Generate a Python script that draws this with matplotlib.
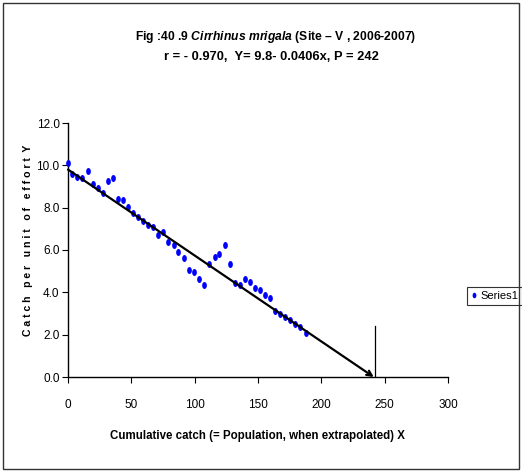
import matplotlib
matplotlib.use("Agg")
import matplotlib.pyplot as plt
from matplotlib.patches import Rectangle
from matplotlib.path import Path
import numpy as np

# Cumulative catch (X) and catch per unit of effort (Y)
cumulative_catch = [0, 3.2, 7.3, 11.3, 15.5, 19.4, 23.7, 27.6, 31.8, 35.7, 39.7, 43.6,
                    47.5, 51.2, 55.1, 59.1, 63.3, 67.2, 71.2, 75.1, 79.3, 83.3, 87.2, 91.2,
                    95.4, 99.4, 103.5, 107.5, 111.7, 115.7, 119.6, 123.6, 127.8, 131.7,
                    135.6, 139.6, 143.8, 147.7, 151.4, 155.3, 159.3, 163.2, 167.1, 171.3,
                    175.3, 179.2, 183.4, 187.6]
cpue = [10.1, 9.6, 9.45, 9.38, 9.73, 9.12, 8.91, 8.71, 9.24, 9.38, 8.42, 8.37,
        8.01, 7.74, 7.54, 7.39, 7.19, 7.11, 6.72, 6.84, 6.38, 6.24, 5.89, 5.63,
        5.07, 4.95, 4.63, 4.33, 5.34, 5.69, 5.83, 6.24, 5.36, 4.46,
        4.33, 4.62, 4.47, 4.22, 4.12, 3.86, 3.71, 3.11, 2.97, 2.83,
        2.69, 2.51, 2.34, 2.07]

# Regression: Y = a - b x, population estimate P
intercept = 9.8
slope = 0.0406
population = 242
marker_line_top = 2.4

x_ticks = [0, 50, 100, 150, 200, 250, 300]
y_ticks = [0.0, 2.0, 4.0, 6.0, 8.0, 10.0, 12.0]

FONT = ["Liberation Sans Narrow", "Liberation Sans", "DejaVu Sans"]
plt.rcParams["font.family"] = FONT
plt.rcParams["mathtext.fontset"] = "custom"
plt.rcParams["mathtext.it"] = "Liberation Sans:italic:bold"
plt.rcParams["mathtext.rm"] = "Liberation Sans:bold"

W, H = 522, 472
fig = plt.figure(figsize=(W / 100, H / 100), dpi=100)
fig.patch.set_facecolor("white")

ax = fig.add_axes([68 / W, 1 - 377 / H, 380 / W, 254 / H])
ax.set_xlim(0, 300)
ax.set_ylim(0, 12)

# slightly tall elliptical dots
theta = np.linspace(0, 2 * np.pi, 40)
ell = Path(np.column_stack([0.68 * np.cos(theta), np.sin(theta)]), closed=True)
ax.plot(cumulative_catch, cpue, linestyle="none", marker=ell, markersize=5.0,
        color="#0000ff", markeredgewidth=0, label="Series1", clip_on=False, zorder=3)

# regression line extrapolated to the x-intercept
ax.annotate("", xy=(intercept / slope, 0), xytext=(0, intercept),
            arrowprops=dict(arrowstyle="->", color="black", lw=1.6,
                            shrinkA=0, shrinkB=0, mutation_scale=9),
            annotation_clip=False, zorder=4)
ax.plot([population, population], [0, marker_line_top], color="black", lw=0.9,
        zorder=4)

for s in ["top", "right"]:
    ax.spines[s].set_visible(False)
for s in ["left", "bottom"]:
    ax.spines[s].set_linewidth(1.0)
    ax.spines[s].set_color("black")

ax.set_xticks(x_ticks)
ax.set_yticks(y_ticks)
ax.set_xticklabels([str(v) for v in x_ticks])
ax.set_yticklabels([f"{v:.1f}" for v in y_ticks])
ax.tick_params(axis="both", direction="out", length=4, width=0.8, labelsize=8.5,
               colors="black")
ax.tick_params(axis="x", pad=12)
ax.tick_params(axis="y", pad=2)

fig.text(276 / W, 1 - 37 / H,
         r"Fig :40 .9 $\mathit{Cirrhinus\ mrigala}$ (Site – V , 2006-2007)",
         ha="center", va="center", fontsize=8.7, fontweight="bold")
fig.text(271 / W, 1 - 57 / H, "r = - 0.970,  Y= 9.8- 0.0406x, P = 242",
         ha="center", va="center", fontsize=9.3, fontweight="bold")

fig.text(257 / W, 1 - 436 / H,
         "Cumulative catch (= Population, when extrapolated) X",
         ha="center", va="center", fontsize=8.3, fontweight="bold")
fig.text(28 / W, 1 - 240 / H,
         "C a t c h   p e r   u n i t   o f   e f f o r t  Y",
         ha="center", va="center", rotation=90, fontsize=7.6, fontweight="bold")

leg = ax.legend(loc="center left", bbox_to_anchor=(467 / W, 1 - 296 / H),
                bbox_transform=fig.transFigure, frameon=True, fancybox=False,
                framealpha=1, edgecolor="#333333", fontsize=8, handlelength=0.5,
                handletextpad=0.35, borderpad=0.35, borderaxespad=0, markerscale=0.8)
leg.get_frame().set_linewidth(0.8)

fig.patches.append(Rectangle((3 / W, 3 / H), 516 / W, 466 / H,
                             transform=fig.transFigure, fill=False,
                             edgecolor="#333333", lw=1.0, zorder=10))

fig.savefig("out.png", dpi=100)
